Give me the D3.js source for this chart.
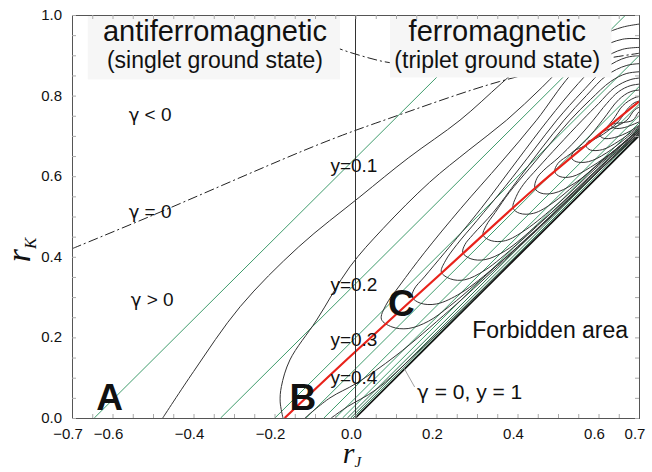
<!DOCTYPE html>
<html>
<head>
<meta charset="utf-8">
<script src="https://cdn.jsdelivr.net/npm/d3@7"></script>
<style>
	body { margin: 0; background: #fff; }
	text { font-family: "Liberation Sans", Arial, sans-serif; fill: #111; }
</style>
</head>
<body>
<script>

// tick labels
var xTicks = [-0.7, -0.6, -0.4, -0.2, 0.0, 0.2, 0.4, 0.6, 0.7]
var yTicks = [0.0, 0.2, 0.4, 0.6, 0.8, 1.0]

// green lines, r_J where they cross r_K = 0 and r_K = 1
var greenBottom = [-0.645, -0.333, -0.199, -0.122, -0.078, -0.050, -0.032, -0.020, -0.012, -0.006, -0.002]
var greenTop    = [0.355, 0.667, 0.801, 0.878, 0.922, 0.950, 0.968, 0.980, 0.988, 0.994, 0.998]

// red line (r_J, r_K)
var redLine = [[-0.175, 0], [-0.014, 0.152], [0.216, 0.363], [0.443, 0.57], [0.644, 0.739], [0.7, 0.785]]

// gamma = 0, both branches
var gammaLow = [[-0.7, 0.42], [-0.508, 0.5], [-0.083, 0.682], [0.085, 0.744], [0.356, 0.835], [0.55, 0.88], [0.7, 0.905]]
var gammaHigh = [[-0.215, 1.0], [-0.1, 0.94], [0.01, 0.9], [0.1, 0.88], [0.2, 0.885], [0.3, 0.91], [0.42, 0.96], [0.5, 1.0]]

// y level curves that leave the frame (y = 0.1, y = 0.2 and their lower arms)
var levelOpen = [
	[[-0.476, 0], [-0.40, 0.115], [-0.285, 0.276], [-0.14, 0.425], [0.011, 0.549], [0.13, 0.645], [0.258, 0.739], [0.36, 0.83], [0.45, 0.91], [0.53, 0.97], [0.60, 1.01]],
	[[-0.179, 0], [-0.186, 0.04], [-0.183, 0.078], [-0.162, 0.144], [-0.096, 0.243], [-0.014, 0.375], [0.068, 0.47], [0.183, 0.585], [0.28, 0.665], [0.373, 0.739], [0.46, 0.82], [0.54, 0.9], [0.61, 0.95], [0.66, 0.97], [0.72, 0.98]],
	[[-0.125, 0], [-0.063, 0.05], [0.002, 0.086], [0.1, 0.155], [0.233, 0.268], [0.35, 0.375], [0.5, 0.515], [0.6, 0.612], [0.72, 0.722]],
	[[-0.06, 0], [-0.02, 0.028], [0.05, 0.07], [0.15, 0.16], [0.3, 0.305], [0.45, 0.452], [0.6, 0.601], [0.72, 0.72]]
]

// y level loops: upper arm from the right edge, leftmost point, lower arm back to the right edge
var levelClosed = [
	[[0.72, 0.94], [0.66, 0.94], [0.60, 0.915], [0.53, 0.85], [0.447, 0.739], [0.36, 0.635], [0.26, 0.52], [0.17, 0.41], [0.11, 0.33], [0.075, 0.28], [0.064, 0.245], [0.09, 0.226], [0.13, 0.222], [0.18, 0.24], [0.233, 0.278], [0.30, 0.335], [0.40, 0.425], [0.50, 0.518], [0.60, 0.614], [0.72, 0.725]],
	[[0.72, 0.92], [0.66, 0.915], [0.61, 0.89], [0.55, 0.83], [0.475, 0.739], [0.40, 0.64], [0.31, 0.52], [0.22, 0.41], [0.17, 0.35], [0.145, 0.32], [0.14, 0.30], [0.16, 0.285], [0.20, 0.283], [0.26, 0.31], [0.35, 0.38], [0.45, 0.47], [0.55, 0.565], [0.65, 0.66], [0.72, 0.726]],
	[[0.72, 0.90], [0.67, 0.895], [0.62, 0.87], [0.56, 0.81], [0.497, 0.739], [0.44, 0.665], [0.37, 0.575], [0.30, 0.49], [0.25, 0.43], [0.222, 0.39], [0.212, 0.362], [0.235, 0.345], [0.27, 0.343], [0.32, 0.367], [0.40, 0.432], [0.50, 0.525], [0.60, 0.62], [0.72, 0.728]],
	[[0.72, 0.88], [0.67, 0.875], [0.62, 0.85], [0.57, 0.80], [0.515, 0.739], [0.46, 0.67], [0.40, 0.59], [0.34, 0.51], [0.29, 0.455], [0.27, 0.43], [0.265, 0.41], [0.285, 0.395], [0.32, 0.393], [0.37, 0.415], [0.45, 0.48], [0.55, 0.57], [0.65, 0.665], [0.72, 0.729]],
	[[0.72, 0.86], [0.67, 0.855], [0.63, 0.835], [0.58, 0.79], [0.53, 0.739], [0.48, 0.68], [0.43, 0.62], [0.38, 0.56], [0.345, 0.51], [0.323, 0.478], [0.315, 0.454], [0.335, 0.44], [0.37, 0.44], [0.42, 0.467], [0.50, 0.532], [0.60, 0.626], [0.72, 0.73]],
	[[0.72, 0.845], [0.68, 0.84], [0.64, 0.82], [0.60, 0.78], [0.56, 0.739], [0.50, 0.675], [0.45, 0.62], [0.415, 0.58], [0.397, 0.55], [0.389, 0.521], [0.405, 0.508], [0.44, 0.508], [0.49, 0.536], [0.60, 0.631], [0.72, 0.732]],
	[[0.72, 0.83], [0.68, 0.825], [0.65, 0.81], [0.62, 0.78], [0.587, 0.739], [0.545, 0.69], [0.50, 0.645], [0.465, 0.615], [0.448, 0.595], [0.443, 0.57], [0.458, 0.558], [0.49, 0.558], [0.54, 0.582], [0.62, 0.647], [0.72, 0.734]],
	[[0.72, 0.815], [0.68, 0.81], [0.65, 0.79], [0.61, 0.739], [0.57, 0.69], [0.53, 0.655], [0.50, 0.632], [0.492, 0.611], [0.505, 0.599], [0.535, 0.599], [0.58, 0.622], [0.65, 0.672], [0.72, 0.736]],
	[[0.72, 0.80], [0.69, 0.795], [0.66, 0.775], [0.635, 0.739], [0.60, 0.70], [0.565, 0.675], [0.54, 0.662], [0.533, 0.646], [0.545, 0.636], [0.575, 0.636], [0.62, 0.658], [0.72, 0.738]],
	[[0.72, 0.79], [0.69, 0.783], [0.67, 0.765], [0.652, 0.739], [0.62, 0.71], [0.59, 0.692], [0.574, 0.686], [0.57, 0.674], [0.58, 0.665], [0.61, 0.666], [0.65, 0.687], [0.72, 0.74]],
	[[0.72, 0.78], [0.69, 0.765], [0.67, 0.739], [0.64, 0.722], [0.615, 0.712], [0.603, 0.702], [0.613, 0.694], [0.64, 0.696], [0.68, 0.713], [0.72, 0.742]],
	[[0.72, 0.772], [0.70, 0.76], [0.685, 0.739], [0.66, 0.733], [0.638, 0.73], [0.632, 0.725], [0.64, 0.719], [0.665, 0.721], [0.72, 0.744]]
]

var width = 652
var height = 472
var margin = { top: 15, right: 13, bottom: 54, left: 72 }
var plotW = width - margin.left - margin.right
var plotH = height - margin.top - margin.bottom

var svg = d3.select('body')
	.append('svg')
	.attr('width', width)
	.attr('height', height)

var graph = svg.append('g')
	.attr('transform', `translate(${margin.left}, ${margin.top})`)

var xScale = d3.scaleLinear().domain([-0.7, 0.7]).range([0, plotW])
var yScale = d3.scaleLinear().domain([0, 1]).range([plotH, 0])

var line = d3.line()
	.x(d => xScale(d[0]))
	.y(d => yScale(d[1]))
	.curve(d3.curveCatmullRom.alpha(0.5))

var straight = d3.line()
	.x(d => xScale(d[0]))
	.y(d => yScale(d[1]))

graph.append('defs').append('clipPath')
	.attr('id', 'clip')
	.append('rect')
		.attr('width', plotW)
		.attr('height', plotH)

var plot = graph.append('g').attr('clip-path', 'url(#clip)')

// green lines
plot.selectAll('.green')
	.data(greenBottom)
	.enter().append('path')
		.attr('class', 'green')
		.attr('d', (d, i) => straight([[d, 0], [greenTop[i], 1]]))
		.attr('fill', 'none')
		.attr('stroke', (d, i) => i > 6 ? '#2b6e4c' : '#3f9c6c')
		.attr('stroke-width', 1)

// level curves
plot.selectAll('.level')
	.data(levelOpen.concat(levelClosed))
	.enter().append('path')
		.attr('class', 'level')
		.attr('d', line)
		.attr('fill', 'none')
		.attr('stroke', '#333')
		.attr('stroke-width', 1)

// boundary gamma = 0, y = 1
plot.append('path')
	.attr('d', straight([[0, 0], [0.7, 0.7]]))
	.attr('stroke', '#111')
	.attr('stroke-width', 1.5)

plot.append('path')
	.datum(redLine)
	.attr('d', line)
	.attr('fill', 'none')
	.attr('stroke', '#e8231b')
	.attr('stroke-width', 2.2)

plot.selectAll('.gamma')
	.data([gammaLow, gammaHigh])
	.enter().append('path')
		.attr('d', line)
		.attr('fill', 'none')
		.attr('stroke', '#222')
		.attr('stroke-width', 1)
		.attr('stroke-dasharray', '10,3,2,3')

// r_J = 0 divider
plot.append('path')
	.attr('d', straight([[0, 0], [0, 1]]))
	.attr('stroke', '#333')
	.attr('stroke-width', 1)

// label boxes
var boxes = [
	{ x0: -0.661, x1: -0.0385, y0: 1.0, y1: 0.84, t1: 'antiferromagnetic', t2: '(singlet ground state)', cx: -0.347 },
	{ x0: 0.085, x1: 0.632, y0: 1.0, y1: 0.845, t1: 'ferromagnetic', t2: '(triplet ground state)', cx: 0.35 }
]
boxes.forEach(b => {
	plot.append('rect')
		.attr('x', xScale(b.x0))
		.attr('y', yScale(b.y0))
		.attr('width', xScale(b.x1) - xScale(b.x0))
		.attr('height', yScale(b.y1) - yScale(b.y0))
		.attr('fill', '#f6f6f6')
	graph.append('text')
		.attr('x', xScale(b.cx))
		.attr('y', 26)
		.attr('text-anchor', 'middle')
		.style('font-size', '29px')
		.text(b.t1)
	graph.append('text')
		.attr('x', xScale(b.cx))
		.attr('y', 53)
		.attr('text-anchor', 'middle')
		.style('font-size', '23px')
		.text(b.t2)
})

// axes frame and ticks
var minorX = d3.range(-0.7, 0.7001, 0.05)
var minorY = d3.range(0, 1.0001, 0.05)

function tickAxis(axis, scale, vals, size) {
	return axis(scale).tickValues(vals).tickSize(size).tickFormat('')
}

graph.append('g').attr('transform', `translate(0, ${plotH})`).call(tickAxis(d3.axisBottom, xScale, minorX, -4))
graph.append('g').call(tickAxis(d3.axisTop, xScale, minorX, -4))
graph.append('g').call(tickAxis(d3.axisLeft, yScale, minorY, -4))
graph.append('g').attr('transform', `translate(${plotW}, 0)`).call(tickAxis(d3.axisRight, yScale, minorY, -4))
graph.selectAll('.tick line').attr('stroke', '#aaa')
graph.selectAll('.domain').attr('stroke', '#555')

graph.selectAll('.xlab')
	.data(xTicks)
	.enter().append('text')
		.attr('x', d => xScale(d) - 4)
		.attr('y', plotH + 21)
		.attr('text-anchor', 'middle')
		.style('font-size', '15px')
		.text(d => d3.format('.1f')(d))

graph.selectAll('.ylab')
	.data(yTicks)
	.enter().append('text')
		.attr('x', -10)
		.attr('y', d => yScale(d) + 5)
		.attr('text-anchor', 'end')
		.style('font-size', '15px')
		.text(d => d3.format('.1f')(d))

// axis titles
var yt = svg.append('text')
	.attr('transform', 'translate(30, 250) rotate(-90)')
	.attr('text-anchor', 'middle')
	.style('font-family', '"Liberation Serif", serif')
	.style('font-style', 'italic')
yt.append('tspan').style('font-size', '34px').text('r')
yt.append('tspan').style('font-size', '17px').attr('dy', 6).text('K')

var xt = svg.append('text')
	.attr('x', 352)
	.attr('y', 463)
	.attr('text-anchor', 'middle')
	.style('font-family', '"Liberation Serif", serif')
	.style('font-style', 'italic')
xt.append('tspan').style('font-size', '30px').text('r')
xt.append('tspan').style('font-size', '15px').attr('dy', 4).text('J')

// annotations, gamma set in another face
var notes = [
	{ x: -0.56, y: 0.737, t: 'γ < 0', s: 19 },
	{ x: -0.56, y: 0.497, t: 'γ = 0', s: 19 },
	{ x: -0.555, y: 0.278, t: 'γ > 0', s: 19 },
	{ x: -0.062, y: 0.61, t: 'y=0.1', s: 19 },
	{ x: -0.062, y: 0.315, t: 'y=0.2', s: 19 },
	{ x: -0.062, y: 0.178, t: 'y=0.3', s: 19 },
	{ x: -0.062, y: 0.084, t: 'y=0.4', s: 19 },
	{ x: 0.288, y: 0.198, t: 'Forbidden area', s: 23 },
	{ x: 0.152, y: 0.047, t: 'γ = 0, y = 1', s: 21 }
]
notes.forEach(n => {
	var t = graph.append('text')
		.attr('x', xScale(n.x))
		.attr('y', yScale(n.y))
		.style('font-size', n.s + 'px')
	n.t.split(/(γ)/).filter(s => s.length).forEach(s => {
		var ts = t.append('tspan').text(s)
		if (s === 'γ') ts.style('font-family', '"DejaVu Sans", sans-serif').style('font-size', (n.s - 1) + 'px')
	})
})

var letters = [
	{ x: -0.64, y: 0.02, t: 'A' },
	{ x: -0.163, y: 0.02, t: 'B' },
	{ x: 0.08, y: 0.252, t: 'C' }
]
graph.selectAll('.letter')
	.data(letters)
	.enter().append('text')
		.attr('x', d => xScale(d.x))
		.attr('y', d => yScale(d.y))
		.style('font-size', '37px')
		.style('font-weight', 'bold')
		.text(d => d.t)

// leader to the gamma = 0, y = 1 line
graph.append('path')
	.attr('d', straight([[0.118, 0.127], [0.146, 0.077]]))
	.attr('stroke', '#888')
	.attr('stroke-width', 0.8)

</script>
</body>
</html>
